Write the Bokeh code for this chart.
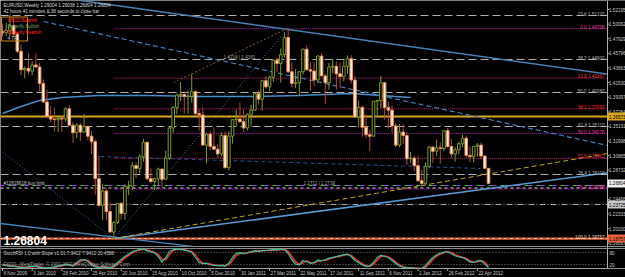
from bokeh.plotting import figure
from bokeh.models import Range1d, ColumnDataSource
from bokeh.embed import file_html
from bokeh.resources import INLINE
from bokeh.core.properties import value

# ---------------- data: EURUSD weekly, bar 0 = week of 8 Nov 2009 ----------------
opens = [1.4900, 1.4880, 1.4915, 1.4985, 1.4860, 1.4610, 1.4340, 1.4360, 1.4320, 1.4410,
         1.4380, 1.4140, 1.3870, 1.3660, 1.3620, 1.3610, 1.3630, 1.3620, 1.3770, 1.3530,
         1.3420, 1.3530, 1.3430, 1.3510, 1.3370, 1.3290, 1.2750, 1.2360, 1.2570, 1.2270,
         1.1970, 1.2110, 1.2390, 1.2240, 1.2640, 1.2640, 1.2940, 1.2900, 1.3070, 1.3280,
         1.2750, 1.2710, 1.2750, 1.2890, 1.2740, 1.3050, 1.3490, 1.3790, 1.3970, 1.3980,
         1.3950, 1.3950, 1.4020, 1.3700, 1.3680, 1.3240, 1.3400, 1.3220, 1.3180, 1.3110,
         1.3380, 1.2910, 1.3370, 1.3610, 1.3620, 1.3580, 1.3490, 1.3690, 1.3750, 1.3990,
         1.3910, 1.4180, 1.4090, 1.4230, 1.4480, 1.4430, 1.4560, 1.4810, 1.4310, 1.4140,
         1.4150, 1.4310, 1.4640, 1.4340, 1.4320, 1.4190, 1.4540, 1.4250, 1.4150, 1.4380,
         1.4390, 1.4280, 1.4240, 1.4390, 1.4500, 1.4190, 1.3650, 1.3790, 1.3500, 1.3390,
         1.3370, 1.3880, 1.3890, 1.4150, 1.3790, 1.3750, 1.3520, 1.3240, 1.3430, 1.3380,
         1.3040, 1.3050, 1.2940, 1.2720, 1.2680, 1.2930, 1.3210, 1.3150, 1.3200, 1.3190,
         1.3450, 1.3220, 1.3110, 1.3170, 1.3260, 1.3340, 1.3090, 1.3070, 1.3220, 1.3240,
         1.3080, 1.29004]
highs = [1.5014, 1.5020, 1.5144, 1.5100, 1.4890, 1.4710, 1.4390, 1.4580, 1.4460, 1.4580,
         1.4440, 1.4200, 1.4050, 1.3810, 1.3790, 1.3660, 1.3660, 1.3790, 1.3820, 1.3580,
         1.3560, 1.3560, 1.3690, 1.3530, 1.3450, 1.3320, 1.3090, 1.2670, 1.2610, 1.2400,
         1.2130, 1.2390, 1.2400, 1.2670, 1.2720, 1.2990, 1.2990, 1.3110, 1.3330, 1.3290,
         1.2900, 1.2760, 1.2910, 1.2900, 1.3160, 1.3510, 1.3800, 1.3990, 1.4160, 1.4030,
         1.4050, 1.4280, 1.4040, 1.3760, 1.3790, 1.3420, 1.3450, 1.3500, 1.3250, 1.3430,
         1.3440, 1.3440, 1.3620, 1.3760, 1.3860, 1.3760, 1.3700, 1.3830, 1.4000, 1.4040,
         1.4190, 1.4250, 1.4250, 1.4490, 1.4520, 1.4650, 1.4880, 1.4940, 1.4450, 1.4350,
         1.4320, 1.4650, 1.4700, 1.4450, 1.4450, 1.4550, 1.4580, 1.4280, 1.4440, 1.4500,
         1.4460, 1.4440, 1.4480, 1.4550, 1.4550, 1.4250, 1.3890, 1.3820, 1.3690, 1.3460,
         1.3880, 1.3900, 1.4250, 1.4160, 1.3870, 1.3820, 1.3560, 1.3550, 1.3550, 1.3430,
         1.3140, 1.3080, 1.3080, 1.2880, 1.2990, 1.3230, 1.3230, 1.3320, 1.3280, 1.3450,
         1.3490, 1.3330, 1.3210, 1.3290, 1.3390, 1.3380, 1.3220, 1.3220, 1.3270, 1.3280,
         1.3090, 1.29038]
lows = [1.4830, 1.4830, 1.4830, 1.4820, 1.4580, 1.4260, 1.4215, 1.4270, 1.4260, 1.4370,
        1.4030, 1.3860, 1.3630, 1.3580, 1.3440, 1.3430, 1.3435, 1.3580, 1.3530, 1.3270,
        1.3340, 1.3300, 1.3420, 1.3310, 1.3110, 1.2520, 1.2330, 1.2140, 1.2150, 1.1960,
        1.1876, 1.2090, 1.2150, 1.2150, 1.2510, 1.2580, 1.2760, 1.2830, 1.3000, 1.2730,
        1.2680, 1.2590, 1.2650, 1.2620, 1.2730, 1.3020, 1.3420, 1.3690, 1.3880, 1.3700,
        1.3700, 1.3860, 1.3670, 1.3450, 1.3240, 1.2970, 1.3170, 1.3170, 1.3060, 1.3080,
        1.2900, 1.2870, 1.3260, 1.3520, 1.3570, 1.3430, 1.3450, 1.3510, 1.3750, 1.3830,
        1.3740, 1.4060, 1.4020, 1.4160, 1.4310, 1.4150, 1.4520, 1.4290, 1.4090, 1.4070,
        1.3970, 1.4270, 1.4330, 1.4030, 1.4100, 1.4150, 1.4250, 1.3840, 1.4050, 1.4290,
        1.4050, 1.4080, 1.4170, 1.4280, 1.4140, 1.3640, 1.3500, 1.3360, 1.3340, 1.3150,
        1.3370, 1.3650, 1.3780, 1.3610, 1.3480, 1.3420, 1.3210, 1.3210, 1.3260, 1.2950,
        1.2980, 1.2860, 1.2700, 1.2624, 1.2660, 1.2900, 1.2980, 1.3080, 1.2970, 1.3150,
        1.3200, 1.3060, 1.3000, 1.3100, 1.3210, 1.3060, 1.2990, 1.2990, 1.3070, 1.3040,
        1.2900, 1.26804]
closes = [1.4880, 1.4915, 1.4985, 1.4860, 1.4610, 1.4340, 1.4360, 1.4320, 1.4410, 1.4380,
          1.4140, 1.3870, 1.3660, 1.3620, 1.3610, 1.3630, 1.3620, 1.3770, 1.3530, 1.3420,
          1.3530, 1.3430, 1.3510, 1.3370, 1.3290, 1.2750, 1.2360, 1.2570, 1.2270, 1.1970,
          1.2110, 1.2390, 1.2240, 1.2640, 1.2640, 1.2940, 1.2900, 1.3070, 1.3280, 1.2750,
          1.2710, 1.2750, 1.2890, 1.2740, 1.3050, 1.3490, 1.3790, 1.3970, 1.3980, 1.3950,
          1.3950, 1.4020, 1.3700, 1.3680, 1.3240, 1.3400, 1.3220, 1.3180, 1.3110, 1.3380,
          1.2910, 1.3370, 1.3610, 1.3620, 1.3580, 1.3490, 1.3690, 1.3750, 1.3990, 1.3910,
          1.4180, 1.4090, 1.4230, 1.4480, 1.4430, 1.4560, 1.4810, 1.4310, 1.4140, 1.4150,
          1.4310, 1.4640, 1.4340, 1.4320, 1.4190, 1.4540, 1.4250, 1.4150, 1.4380, 1.4390,
          1.4280, 1.4240, 1.4390, 1.4500, 1.4190, 1.3650, 1.3790, 1.3500, 1.3390, 1.3370,
          1.3880, 1.3890, 1.4150, 1.3790, 1.3750, 1.3520, 1.3240, 1.3430, 1.3380, 1.3040,
          1.3050, 1.2940, 1.2720, 1.2680, 1.2930, 1.3210, 1.3150, 1.3200, 1.3190, 1.3450,
          1.3220, 1.3110, 1.3170, 1.3260, 1.3340, 1.3090, 1.3070, 1.3220, 1.3240, 1.3080,
          1.29004, 1.26804]

# StochRSI main and signal line
stoch_main = [18, 14, 12, 10, 8, 6, 5, 8, 12, 10,
              6, 4, 3, 5, 8, 12, 16, 22, 18, 12,
              30, 42, 45, 36, 18, 8, 4, 10, 6, 4,
              12, 30, 45, 60, 72, 85, 90, 96, 98, 88,
              84, 78, 60, 32, 55, 86, 94, 97, 96, 92,
              88, 80, 55, 30, 24, 26, 20, 16, 14, 16,
              12, 26, 55, 76, 78, 74, 80, 84, 88, 86,
              90, 90, 92, 94, 93, 95, 96, 75, 45, 22,
              18, 40, 35, 25, 30, 42, 38, 44, 52, 56,
              60, 64, 68, 72, 60, 40, 30, 18, 10, 12,
              30, 55, 66, 60, 55, 40, 25, 12, 6, 4,
              3, 2, 1, 0, 14, 35, 55, 68, 76, 82,
              85, 74, 64, 58, 55, 45, 32, 30, 38, 40,
              22, 5]
stoch_signal = [20, 17, 14, 12, 10, 8, 6, 6, 9, 11,
                8, 5, 4, 4, 6, 10, 14, 19, 20, 15,
                22, 36, 44, 40, 27, 13, 6, 7, 8, 5,
                8, 21, 38, 52, 66, 78, 88, 93, 97, 93,
                86, 81, 69, 46, 44, 70, 90, 95, 96, 94,
                90, 84, 68, 42, 27, 25, 23, 18, 15, 15,
                14, 19, 40, 65, 77, 76, 77, 82, 86, 87,
                88, 90, 91, 93, 93, 94, 95, 86, 60, 34,
                20, 29, 37, 30, 28, 36, 40, 41, 48, 54,
                58, 62, 66, 70, 66, 50, 35, 24, 14, 11,
                21, 42, 60, 63, 58, 48, 32, 18, 9, 5,
                3, 2, 1, 0, 7, 24, 45, 62, 72, 79,
                84, 80, 69, 61, 56, 50, 38, 31, 34, 39,
                31, 13]
stoch_levels = [80, 20]

# time axis
date_ticks = [0, 8, 16, 24, 32, 40, 48, 56, 64, 72, 80, 88, 96, 104, 112, 120, 128]
date_labels = ["8 Nov 2009", "3 Jan 2010", "28 Feb 2010", "25 Apr 2010", "20 Jun 2010",
               "15 Aug 2010", "10 Oct 2010", "5 Dec 2010", "30 Jan 2011", "27 Mar 2011",
               "22 May 2011", "17 Jul 2011", "11 Sep 2011", "6 Nov 2011", "1 Jan 2012",
               "26 Feb 2012", "22 Apr 2012"]

# price scale labels
price_ticks = [1.52195, 1.50062, 1.47929, 1.45796, 1.43663, 1.41530, 1.39397, 1.37264,
               1.35131, 1.32998, 1.30865, 1.28732, 1.26599, 1.24466, 1.22333, 1.20200, 1.18067]

# Fibonacci (magenta) from the May 2011 high to the June 2010 low
fib_pcts = ["0.0", "23.6", "38.2", "50.0", "61.8", "76.4", "100.0"]
fib_levels = [1.49398, 1.42167, 1.37693, 1.34078, 1.30462, 1.25988, 1.18757]
fib_start_bar = 30
# second (grey, dashed) Fibonacci set
gfib_pcts = ["23.6", "38.2", "50.0", "61.8", "76.4"]
gfib_levels = [1.51320, 1.44900, 1.40080, 1.35110, 1.28110]

orange_level = 1.36573
order_level = 1.26500
stop_level = 1.23725
bid_price = 1.26804

# trend lines: (bar0, price0, bar1, price1)
tl_x0 = [21.0, 11.05, 26.4, -0.54, 30.0, 30.0, -0.54, 30.0, 46.1]
tl_p0 = [1.5351, 1.5044, 1.3073, 1.2095, 1.1876, 1.1876, 1.3161, 1.1876, 1.4154]
tl_x1 = [167.9, 163.1, 128.8, 53.4, 167.9, 167.9, 30.0, 76.8, 76.8]
tl_p1 = [1.4241, 1.3234, 1.2898, 1.1745, 1.2869, 1.3161, 1.1876, 1.4940, 1.4940]
tl_color = ["#4682B4", "#3F7FBF", "#24508F", "#4682B4", "#5A9AD0", "#B8A818", "#3A7AC0", "#3A7AC0", "#8B5A2B"]
tl_dash = ["solid", "5 3", "4 3", "solid", "solid", "5 3", "1 2", "1 2", "2 2"]
tl_width = [1.5, 1.2, 1.0, 1.3, 1.5, 1.0, 1.0, 1.0, 1.0]

# long moving average
ma_x = [0, 5, 10, 16, 26, 40, 53, 67, 80, 94, 110]
ma_p = [1.3701, 1.3803, 1.3891, 1.3935, 1.3964, 1.3964, 1.3949, 1.3949, 1.3964, 1.3993, 1.3935]

# ---------------- layout helpers (screen pixel -> data) ----------------
BAR_PX, X0_PX = 3.71, 2.0
PPX, PREF, PREF_PX = 0.00146, 1.52195, 9.0
FW, FH = 625, 277
SUB_BOTTOM = 268          # pixel row of indicator zero / top of time strip
STOCH_PX = 0.2
FONT = "Liberation Sans"
SMALL = "4.6px"


def bx(px):
    return (px - X0_PX) / BAR_PX


def py(pyx):
    return PREF - (pyx - PREF_PX) * PPX


AX = bx(607)
XL, XR = bx(0), bx(FW)

p = figure(frame_width=FW, frame_height=FH, x_range=Range1d(XL, XR),
           y_range=Range1d(py(FH), py(0)), output_backend="svg", toolbar_location=None,
           x_axis_location=None, y_axis_location=None, min_border=0,
           background_fill_color="black", border_fill_color="black", outline_line_color=None)
p.grid.visible = False
p.extra_y_ranges = {"stoch": Range1d(-(FH - SUB_BOTTOM) / STOCH_PX, SUB_BOTTOM / STOCH_PX)}


def txt(xs, ys, texts, color, size=SMALL, align="left", baseline="middle", style="normal"):
    p.text(x=xs, y=ys, text=texts, text_color=color, text_font=value(FONT),
           text_font_size=value(size), text_align=align, text_baseline=baseline,
           text_font_style=style)


def hline(x0, x1, y, color, width=1.0, dash="solid", offset=0):
    p.line(x=[x0, x1], y=[y, y], line_color=color, line_width=width, line_dash=dash,
           line_dash_offset=offset)


# ---------------- horizontal objects ----------------
for lv in gfib_levels:
    hline(XL, AX, lv, "#B4B4B4", 1, "8 4")
hline(XL, AX, orange_level, "#DAA520", 2.2)
for i, lv in enumerate(fib_levels[:-1]):
    hline(fib_start_bar, AX, lv, "#D0207A" if i in (1, 2, 4) else "#B01CB0", 1, "1 1")
hline(XL, AX, stop_level, "#A8A8A8", 1, "6 2 1 2")
hline(XL, AX, order_level, "#A040FF", 1.2, "4 8")
hline(XL, AX, order_level, "#30C030", 1.2, "4 8", 4)
hline(XL, AX, py(187.5), "#D8D8D8", 1, "3 3")
hline(XL, AX, fib_levels[-1], "#E8603C", 2.2)
hline(XL, AX, fib_levels[-1], "#FFE0D0", 1, "2 4")

# ---------------- trend lines & MA ----------------
for k in range(len(tl_x0)):
    p.line(x=[tl_x0[k], tl_x1[k]], y=[tl_p0[k], tl_p1[k]], line_color=tl_color[k],
           line_width=tl_width[k], line_dash=tl_dash[k])
p.line(x=ma_x, y=ma_p, line_color="#4A8CC8", line_width=1.4)

# ---------------- candles ----------------
idx = list(range(len(opens)))
bull = [c >= o for o, c in zip(opens, closes)]
src = ColumnDataSource(dict(
    x=idx, h=highs, l=lows,
    top=[max(o, c) for o, c in zip(opens, closes)],
    bottom=[min(o, c) for o, c in zip(opens, closes)],
    fill=["#000000" if b else "#FFF2E6" for b in bull],
    edge=["#7A9A2A" if b else "#F08C50" for b in bull],
    wick=["#7A9A2A" if b else "#B04A3A" for b in bull]))
p.segment(x0="x", y0="h", x1="x", y1="l", line_color="wick", line_width=1, source=src)
p.vbar(x="x", width=0.7, top="top", bottom="bottom", fill_color="fill",
       line_color="edge", line_width=1, source=src)

# ---------------- object labels ----------------
txt([bx(604)] * len(gfib_levels), [lv + 1.0 * PPX for lv in gfib_levels],
    [f"{a} {b:.5f}" for a, b in zip(gfib_pcts, gfib_levels)], "#B4B4B4", align="right")
txt([bx(604)] * len(fib_levels), [lv + 1.5 * PPX for lv in fib_levels],
    [f"{a} {b:.5f}" for a, b in zip(fib_pcts, fib_levels)],
    ["#E040A0", "#F03030", "#F03030", "#E040A0", "#F03030", "#E040A0", "#F0D0D0"], align="right")

txt([bx(3)], [py(4.5)], ["EURUSD,Weekly 1.29004 1.29038 1.26804 1.26804"], "#D8D8D8")
txt([bx(3)], [py(10.5)], ["42 hours 41 minutes & 38 seconds to close bar"], "#D8D8D8")
p.quad(left=[bx(1)], right=[bx(27)], top=[py(16.5)], bottom=[py(40.5)], fill_color=None,
       line_color="#D08020", line_width=1)
txt([bx(7)] * 4, [py(19.5), py(25.5), py(31.5), py(37.5)],
    ["ABCD Bearish", "Butterfly Bullish", "Butterfly Bearish", "4 TF"],
    ["#FF2020", "#6FA86F", "#FF2020", "#C8C8C8"])
txt([bx(3)], [py(183)], ["#12818618 buy limit"], "#C8C8C8")
txt([bx(223)], [py(57)], ["1.4214 | 1.4181"], "#A0A0A0")
txt([bx(303)], [py(183)], ["1.2711 | 1.2738"], "#A0A0A0")
txt([bx(3)], [py(239.5)], ["1.26804"], "#FFFFFF", size="12px", style="bold")

# ---------------- indicator sub-window ----------------
p.quad(left=[XL], right=[XR], bottom=[py(FH)], top=[py(246)], fill_color="black", line_color=None)
for row in (246, 248):
    p.line(x=[XL, XR], y=[py(row), py(row)], line_color="#8C8C8C", line_width=1)
for lv in stoch_levels:
    p.line(x=[XL, AX], y=[lv, lv], y_range_name="stoch", line_color="#7A7A7A",
           line_width=1, line_dash="1 2")
p.line(x=idx, y=stoch_signal, y_range_name="stoch", line_color="#E8322A", line_width=1.6)
p.line(x=idx, y=stoch_main, y_range_name="stoch", line_color="#35C2A2", line_width=1.2)
txt([bx(3)], [py(253)], ["StochRSI 1.0 with Slope v1.01  7.9412  7.9412  20.4588"], "#D0D0D0")
txt([bx(3)], [py(264)], ["FXDD - MetaTrader, \u00a9 2001-2012 MetaQuotes Software Corp."], "#9A9A9A")

# ---------------- time strip ----------------
p.quad(left=[XL], right=[XR], bottom=[py(FH)], top=[py(SUB_BOTTOM)], fill_color="black",
       line_color=None)
p.line(x=[XL, XR], y=[py(SUB_BOTTOM), py(SUB_BOTTOM)], line_color="#A0A0A0", line_width=1)
p.segment(x0=date_ticks, x1=date_ticks, y0=[py(SUB_BOTTOM)] * len(date_ticks),
          y1=[py(SUB_BOTTOM + 2.5)] * len(date_ticks), line_color="#A0A0A0")
txt([t + bx(3) - bx(2) for t in date_ticks], [py(273)] * len(date_ticks), date_labels, "#C8C8C8")

# ---------------- price scale (right) ----------------
p.quad(left=[AX], right=[XR], bottom=[py(FH)], top=[py(0)], fill_color="black", line_color=None)
p.line(x=[AX, AX], y=[py(0), py(SUB_BOTTOM)], line_color="#B0B0B0", line_width=1)
p.segment(x0=[AX] * len(price_ticks), x1=[bx(609)] * len(price_ticks), y0=price_ticks,
          y1=price_ticks, line_color="#B0B0B0")
txt([bx(608.5)] * len(price_ticks), price_ticks, [f"{v:.5f}" for v in price_ticks], "#C8C8C8")
for row in (246, 248, SUB_BOTTOM):
    p.line(x=[AX, XR], y=[py(row), py(row)], line_color="#8C8C8C")
txt([bx(609), bx(609)], [py(252), py(264)], ["80", "20"], "#C8C8C8")

box_levels = [orange_level, bid_price, stop_level, fib_levels[-1]]
box_fill = ["#DAA520", "#F0F0F0", "#C8C8C8", "#E8603C"]
half = 4.0 * PPX
p.quad(left=[AX] * 4, right=[XR] * 4, bottom=[b - half for b in box_levels],
       top=[b + half for b in box_levels], fill_color=box_fill, line_color=None)
txt([bx(608.5)] * 4, box_levels, [f"{v:.5f}" for v in box_levels], "#000000")

open("out.html", "w").write(file_html(p, INLINE))
